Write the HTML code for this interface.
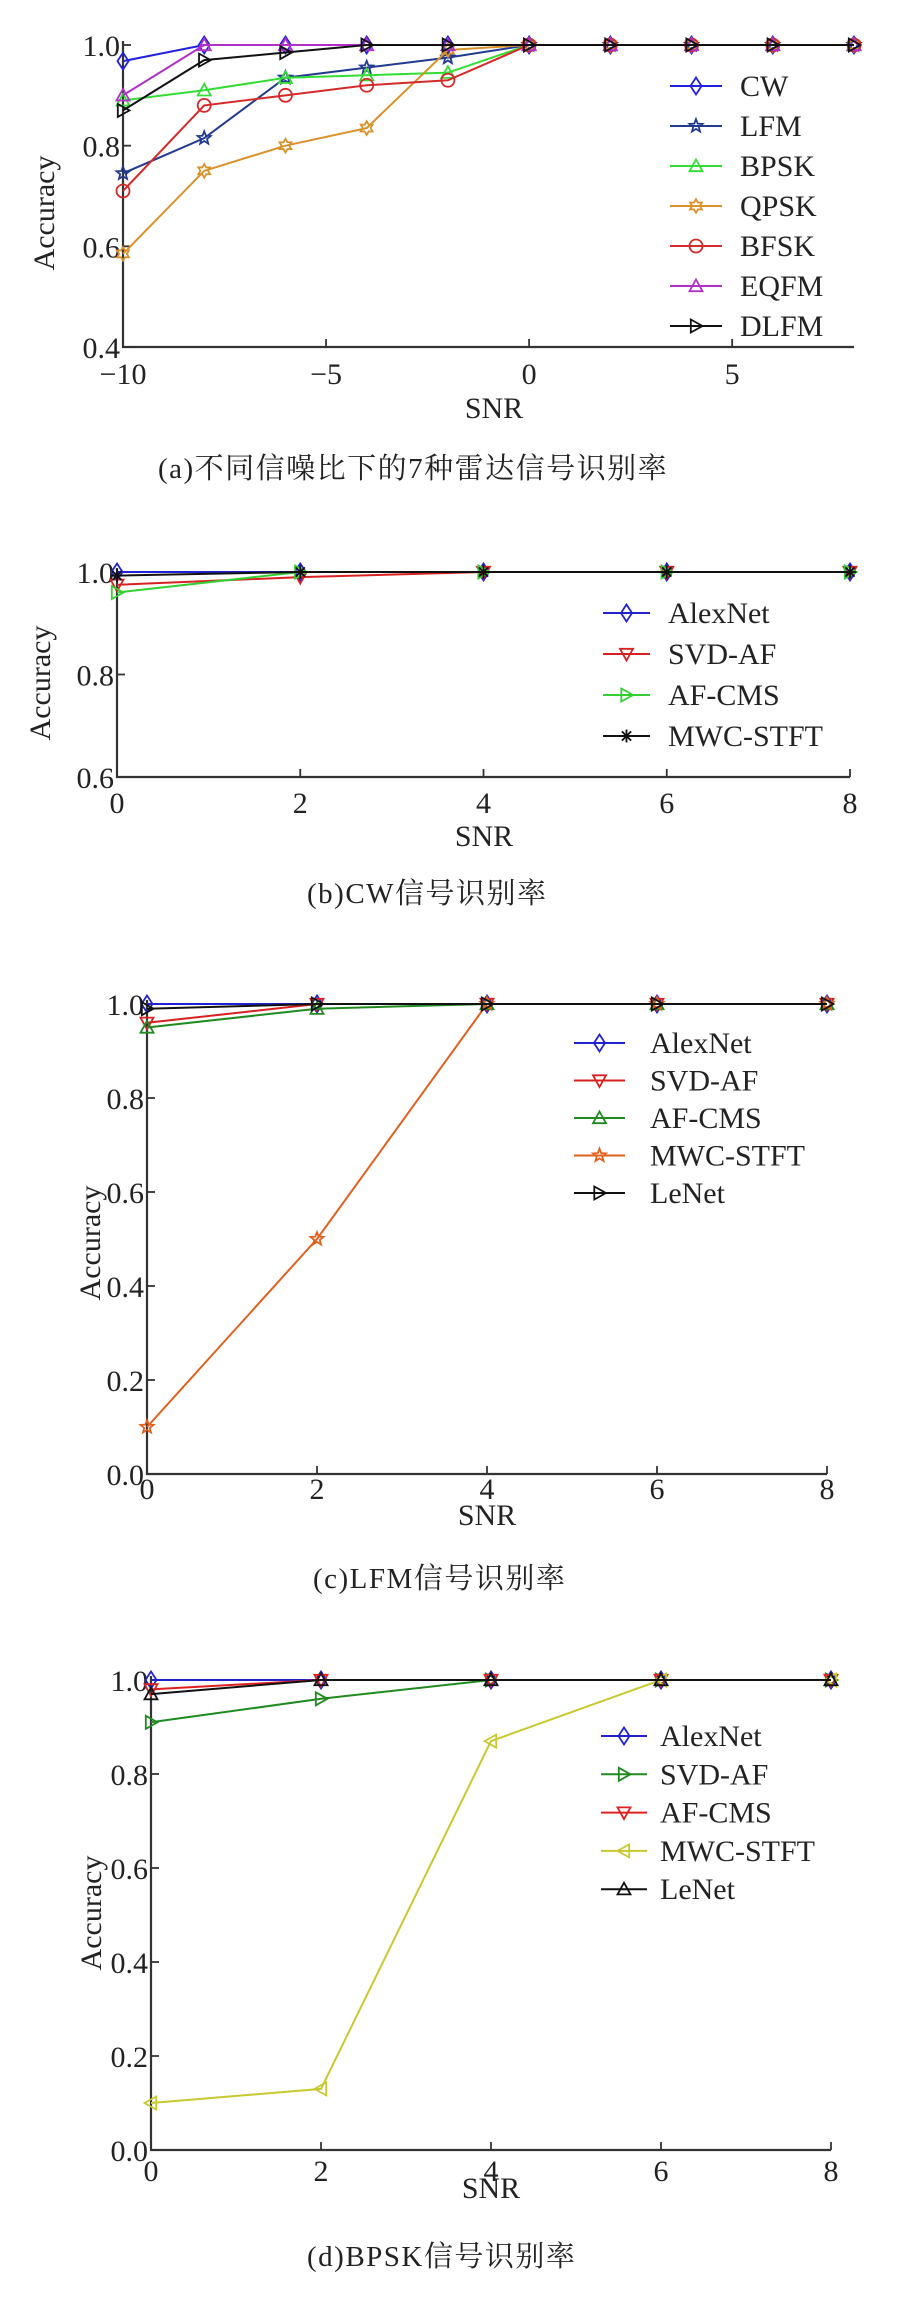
<!DOCTYPE html>
<html><head><meta charset="utf-8">
<style>
html,body{margin:0;padding:0;background:#fff;}
svg{display:block;}
text{font-family:"Liberation Serif","Noto Serif CJK SC",serif;fill:#222;}
.cap{font-family:"Liberation Serif","Noto Serif CJK SC",serif;font-size:29px;letter-spacing:1.5px;}
</style></head>
<body>
<svg id="fig" width="907" height="2298" viewBox="0 0 907 2298" xmlns="http://www.w3.org/2000/svg"></svg>
<script>
// ---- chart (a) data ----
const aSnr = [-10,-8,-6,-4,-2,0,2,4,6,8];
const aCW   = [0.968,1,1,1,1,1,1,1,1,1];
const aLFM  = [0.745,0.815,0.935,0.955,0.975,1,1,1,1,1];
const aBPSK = [0.89,0.91,0.935,0.94,0.945,1,1,1,1,1];
const aQPSK = [0.585,0.75,0.80,0.835,0.99,1,1,1,1,1];
const aBFSK = [0.71,0.88,0.90,0.92,0.93,1,1,1,1,1];
const aEQFM = [0.90,1,1,1,1,1,1,1,1,1];
const aDLFM = [0.87,0.97,0.985,1,1,1,1,1,1,1];
const aYTicks = [0.4,0.6,0.8,1.0];
const aYTickLabels = ["0.4","0.6","0.8","1.0"];
const aXTicks = [-10,-5,0,5];
const aXTickLabels = ["\u221210","\u22125","0","5"];
// ---- chart (b) data ----
const bSnr = [0,2,4,6,8];
const bAlex = [1,1,1,1,1];
const bSVD  = [0.975,0.99,1,1,1];
const bAFC  = [0.96,1,1,1,1];
const bMWC  = [0.993,1,1,1,1];
const bYTicks = [0.6,0.8,1.0];
const bYTickLabels = ["0.6","0.8","1.0"];
const bXTicks = [0,2,4,6,8];
const bXTickLabels = ["0","2","4","6","8"];
// ---- chart (c) data ----
const cSnr = [0,2,4,6,8];
const cAlex = [1,1,1,1,1];
const cSVD  = [0.96,1,1,1,1];
const cAFC  = [0.95,0.99,1,1,1];
const cMWC  = [0.1,0.5,1,1,1];
const cLeNet= [0.99,1,1,1,1];
const cYTicks = [0,0.2,0.4,0.6,0.8,1.0];
const cYTickLabels = ["0.0","0.2","0.4","0.6","0.8","1.0"];
const cXTicks = [0,2,4,6,8];
const cXTickLabels = ["0","2","4","6","8"];
// ---- chart (d) data ----
const dSnr = [0,2,4,6,8];
const dAlex = [1,1,1,1,1];
const dSVD  = [0.91,0.96,1,1,1];
const dAFC  = [0.98,1,1,1,1];
const dMWC  = [0.1,0.13,0.87,1,1];
const dLeNet= [0.97,1,1,1,1];
const dYTicks = [0,0.2,0.4,0.6,0.8,1.0];
const dYTickLabels = ["0.0","0.2","0.4","0.6","0.8","1.0"];
const dXTicks = [0,2,4,6,8];
const dXTickLabels = ["0","2","4","6","8"];

const NS = "http://www.w3.org/2000/svg";
const fig = document.getElementById('fig');
function mk(tag, parent){ const e=document.createElementNS(NS,tag); parent.appendChild(e); return e; }

function marker(g, shape, cx, cy, color){
  const s=6.5;
  let e;
  if(shape==='circle'){
    e=mk('circle',g); e.setAttribute('cx',cx); e.setAttribute('cy',cy); e.setAttribute('r',s);
  } else if(shape==='asterisk'){
    e=mk('path',g);
    let d='';
    for(let k=0;k<4;k++){const a=k*Math.PI/4; d+=`M${cx-s*Math.cos(a)},${cy-s*Math.sin(a)}L${cx+s*Math.cos(a)},${cy+s*Math.sin(a)}`;}
    e.setAttribute('d',d);
  } else {
    let pts=[];
    if(shape==='diamond') pts=[[0,-s*1.3],[s*0.85,0],[0,s*1.3],[-s*0.85,0]];
    else if(shape==='up') pts=[[0,-s],[s,s*0.8],[-s,s*0.8]];
    else if(shape==='down') pts=[[0,s],[s,-s*0.8],[-s,-s*0.8]];
    else if(shape==='right') pts=[[s,0],[-s*0.8,-s],[-s*0.8,s]];
    else if(shape==='left') pts=[[-s,0],[s*0.8,-s],[s*0.8,s]];
    else if(shape==='star'){ for(let k=0;k<10;k++){const r=k%2?s*0.45:s*1.05;const a=-Math.PI/2+k*Math.PI/5;pts.push([r*Math.cos(a),r*Math.sin(a)]);} }
    else if(shape==='hex'){ for(let k=0;k<12;k++){const r=k%2?s*0.6:s*1.05;const a=-Math.PI/2+k*Math.PI/6;pts.push([r*Math.cos(a),r*Math.sin(a)]);} }
    e=mk('polygon',g);
    e.setAttribute('points',pts.map(p=>(cx+p[0])+','+(cy+p[1])).join(' '));
  }
  e.setAttribute('fill','none'); e.setAttribute('stroke',color); e.setAttribute('stroke-width','1.8');
  return e;
}

function chart(cfg){
  const g=mk('g',fig);
  
  
  const X=v=>cfg.x0+(v-cfg.xmin)/(cfg.xmax-cfg.xmin)*(cfg.x1-cfg.x0);
  const Y=v=>cfg.y0+(v-cfg.ymin)/(cfg.ymax-cfg.ymin)*(cfg.y1-cfg.y0);
  // axes
  const ax=mk('path',g);
  
  
  ax.setAttribute('d',`M${cfg.x0},${cfg.y1-4}L${cfg.x0},${cfg.y0}L${cfg.x1},${cfg.y0}`);
  ax.setAttribute('stroke','#333'); ax.setAttribute('stroke-width','2.2'); ax.setAttribute('fill','none');
  cfg.yt.forEach((v,i)=>{
    const t=mk('line',g);
    
    
    t.setAttribute('x1',cfg.x0); t.setAttribute('x2',cfg.x0+8); t.setAttribute('y1',Y(v)); t.setAttribute('y2',Y(v));
    t.setAttribute('stroke','#333'); t.setAttribute('stroke-width','1.8');
    const l=mk('text',g);
    
    
    l.setAttribute('x',cfg.x0-3); l.setAttribute('y',Y(v)+11); l.setAttribute('text-anchor','end'); l.setAttribute('font-size','30');
    l.textContent=cfg.ytl[i];
  });
  cfg.xt.forEach((v,i)=>{
    const t=mk('line',g);
    
    
    t.setAttribute('x1',X(v)); t.setAttribute('x2',X(v)); t.setAttribute('y1',cfg.y0); t.setAttribute('y2',cfg.y0-8);
    t.setAttribute('stroke','#333'); t.setAttribute('stroke-width','1.8');
    const l=mk('text',g);
    
    
    l.setAttribute('x',X(v)); l.setAttribute('y',cfg.xtly); l.setAttribute('text-anchor','middle'); l.setAttribute('font-size','30');
    l.textContent=cfg.xtl[i];
  });
  const xl=mk('text',g);
  
  
  xl.setAttribute('x',cfg.snrx); xl.setAttribute('y',cfg.snry); xl.setAttribute('text-anchor','middle'); xl.setAttribute('font-size','30');
  xl.textContent='SNR';
  const yl=mk('text',g);
  
  
  yl.setAttribute('transform',`translate(${cfg.accx},${cfg.accy}) rotate(-90)`);
  yl.setAttribute('text-anchor','middle'); yl.setAttribute('font-size','30');
  yl.textContent='Accuracy';
  // series
  cfg.series.forEach(s=>{
    const sg=mk('g',g);
    
    
    const pl=mk('polyline',sg);
    
    
    pl.setAttribute('points',cfg.xs.map((xv,i)=>X(xv)+','+Y(s.data[i])).join(' '));
    pl.setAttribute('fill','none'); pl.setAttribute('stroke',s.color); pl.setAttribute('stroke-width','2');
    cfg.xs.forEach((xv,i)=>{
      const m=marker(sg,s.shape,X(xv),Y(s.data[i]),s.color);
      
      
    });
  });
  // legend
  const lg=mk('g',g);
  
  
  cfg.series.forEach((s,i)=>{
    const y=cfg.leg.y+i*cfg.leg.dy;
    const eg=mk('g',lg);
    
    
    const ln=mk('line',eg);
    ln.setAttribute('x1',cfg.leg.x); ln.setAttribute('x2',cfg.leg.x+cfg.leg.w); ln.setAttribute('y1',y); ln.setAttribute('y2',y);
    ln.setAttribute('stroke',s.color); ln.setAttribute('stroke-width','2');
    marker(eg,s.shape,cfg.leg.x+cfg.leg.w/2,y,s.color);
    const t=mk('text',eg);
    t.setAttribute('x',cfg.leg.tx); t.setAttribute('y',y+10); t.setAttribute('font-size','30');
    t.textContent=s.label;
  });
  const cp=mk('text',g);
  
  
  cp.setAttribute('class','cap');
  cp.setAttribute('x',cfg.capx); cp.setAttribute('y',cfg.capy);
  cp.textContent=cfg.caption;
}

chart({name:'chart-a',x0:123,x1:854,y0:347,y1:45,xmin:-10,xmax:8,ymin:0.4,ymax:1.0,
  xs:aSnr,yt:aYTicks,ytl:aYTickLabels,xt:aXTicks,xtl:aXTickLabels,xtly:384,snrx:494,snry:418,accx:54,accy:213,
  series:[
    {label:'CW',data:aCW,color:'#2222dd',shape:'diamond'},
    {label:'LFM',data:aLFM,color:'#223a8f',shape:'star'},
    {label:'BPSK',data:aBPSK,color:'#33dd33',shape:'up'},
    {label:'QPSK',data:aQPSK,color:'#d9922a',shape:'hex'},
    {label:'BFSK',data:aBFSK,color:'#d42a2a',shape:'circle'},
    {label:'EQFM',data:aEQFM,color:'#b030c8',shape:'up'},
    {label:'DLFM',data:aDLFM,color:'#111111',shape:'right'}],
  leg:{x:670,w:52,tx:740,y:86,dy:40},
  caption:'(a)不同信噪比下的7种雷达信号识别率',capx:158,capy:478});

chart({name:'chart-b',x0:117,x1:850,y0:777,y1:572,xmin:0,xmax:8,ymin:0.6,ymax:1.0,
  xs:bSnr,yt:bYTicks,ytl:bYTickLabels,xt:bXTicks,xtl:bXTickLabels,xtly:813,snrx:484,snry:846,accx:50,accy:683,
  series:[
    {label:'AlexNet',data:bAlex,color:'#2222cc',shape:'diamond'},
    {label:'SVD-AF',data:bSVD,color:'#d82020',shape:'down'},
    {label:'AF-CMS',data:bAFC,color:'#33d033',shape:'right'},
    {label:'MWC-STFT',data:bMWC,color:'#111111',shape:'asterisk'}],
  leg:{x:603,w:47,tx:668,y:613,dy:41},
  caption:'(b)CW信号识别率',capx:307,capy:903});

chart({name:'chart-c',x0:147,x1:827,y0:1474,y1:1004,xmin:0,xmax:8,ymin:0,ymax:1.0,
  xs:cSnr,yt:cYTicks,ytl:cYTickLabels,xt:cXTicks,xtl:cXTickLabels,xtly:1499,snrx:487,snry:1525,accx:100,accy:1243,
  series:[
    {label:'AlexNet',data:cAlex,color:'#2222cc',shape:'diamond'},
    {label:'SVD-AF',data:cSVD,color:'#d82020',shape:'down'},
    {label:'AF-CMS',data:cAFC,color:'#208a20',shape:'up'},
    {label:'MWC-STFT',data:cMWC,color:'#e06020',shape:'star'},
    {label:'LeNet',data:cLeNet,color:'#111111',shape:'right'}],
  leg:{x:574,w:51,tx:650,y:1043,dy:37.5},
  caption:'(c)LFM信号识别率',capx:313,capy:1588});

chart({name:'chart-d',x0:151,x1:831,y0:2150,y1:1680,xmin:0,xmax:8,ymin:0,ymax:1.0,
  xs:dSnr,yt:dYTicks,ytl:dYTickLabels,xt:dXTicks,xtl:dXTickLabels,xtly:2181,snrx:491,snry:2198,accx:101,accy:1913,
  series:[
    {label:'AlexNet',data:dAlex,color:'#2222cc',shape:'diamond'},
    {label:'SVD-AF',data:dSVD,color:'#1f8a1f',shape:'right'},
    {label:'AF-CMS',data:dAFC,color:'#e02020',shape:'down'},
    {label:'MWC-STFT',data:dMWC,color:'#c8c830',shape:'left'},
    {label:'LeNet',data:dLeNet,color:'#111111',shape:'up'}],
  leg:{x:601,w:46,tx:660,y:1736,dy:38.3},
  caption:'(d)BPSK信号识别率',capx:307,capy:2266});
</script>
</body></html>
